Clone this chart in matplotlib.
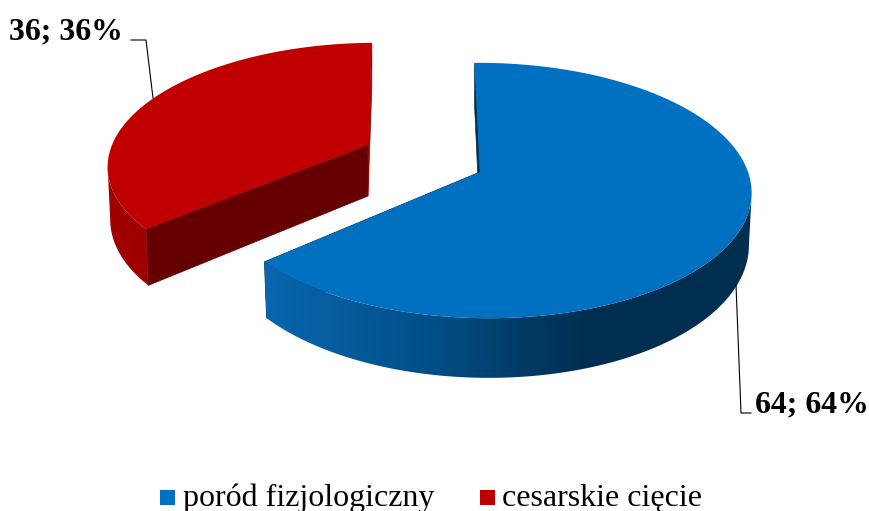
import numpy as np
import matplotlib
matplotlib.use("Agg")
from matplotlib import pyplot as plt
from matplotlib.colors import LinearSegmentedColormap
from matplotlib.patches import Polygon, Rectangle

# data
categories = ["poród fizjologiczny", "cesarskie cięcie"]
values = [64, 36]
data_labels = ["64; 64%", "36; 36%"]

top_colors = ["#0070C0", "#C00000"]
wall_colors = [["#0A66AE", "#004F88", "#002E50", "#002E50"], ["#A00000", "#9A0000", "#900000"]]
# wall at the start of the slice, wall at the end of it
radial_colors = [["#00304F", "#00304F"], ["#660000", "#A00000"]]

start_angle = -1.0
persp = 0.145
# apex x, apex y, ellipse x, half width, half height, shear
slice_geo = [(480, 172, 483, 265, 125, -5), (368, 145, 367, 255, 117, 10.0)]
depth = 51.0
shrink = 0.99


def project(ang, radius, geo):
    apex_x, apex_y, cx, f, g, s = geo
    X = radius * np.sin(np.radians(ang))
    Y = radius * np.cos(np.radians(ang))
    w = 1 + persp * Y
    x = cx + (f * X + s * Y) / w
    y = apex_y - g * Y / w
    d = depth / w
    return x, y, apex_x + (x - apex_x) * shrink, y + d


fig = plt.figure(figsize=(8.69, 5.11), dpi=100)
ax = fig.add_axes([0, 0, 1, 1])

plt.rcParams["font.family"] = ["Liberation Serif", "DejaVu Serif"]

a0 = start_angle
for i, val in enumerate(values):
    a1 = a0 + val * 3.6
    geo = slice_geo[i]
    ang = np.linspace(a0, a1, 241)
    x, y, xb, yb = project(ang, 1.0, geo)
    apex = (geo[0], geo[1])
    apex_b = (geo[0], geo[1] + depth)

    # radial walls first
    for end, c in zip([0, -1], radial_colors[i]):
        ax.add_patch(Polygon([apex, (x[end], y[end]), (xb[end], yb[end]), apex_b],
                             closed=True, fc=c, ec=c, lw=0.5, zorder=2))

    # outer wall, only the part facing the viewer, shaded left to right
    cmap = LinearSegmentedColormap.from_list("wall", wall_colors[i])
    ext = np.argmax(np.abs(x - geo[0]))
    front = np.cos(np.radians(ang)) <= np.cos(np.radians(ang[ext]))
    wall = Polygon(np.column_stack([np.r_[x[front], xb[front][::-1]], np.r_[y[front], yb[front][::-1]]]),
                   closed=True, fc="none", ec="none", transform=ax.transData)
    ax.add_patch(wall)
    im = ax.imshow(np.linspace(0, 1, 256).reshape(1, -1), cmap=cmap, aspect="auto", zorder=3,
                   extent=(x.min() - 1, x.max() + 1, yb.max() + 1, y.min() - 1))
    im.set_clip_path(wall)

    # top face
    ax.add_patch(Polygon(np.column_stack([np.r_[apex[0], x], np.r_[apex[1], y]]),
                         closed=True, fc=top_colors[i], ec="none", zorder=4))
    a0 = a1

# leader lines
ax.plot([131, 146, 153], [40, 40, 98], color="black", lw=0.8, zorder=5)
ax.plot([736, 741, 751], [285, 413, 413], color="black", lw=0.8, zorder=5)

ax.text(9, 32, data_labels[1], fontsize=22.9, fontweight="bold", va="center", ha="left")
ax.text(755, 405, data_labels[0], fontsize=22.9, fontweight="bold", va="center", ha="left")

# legend
ax.add_patch(Rectangle((160, 490), 15, 15, fc=top_colors[0], ec="none"))
ax.add_patch(Rectangle((480, 490), 15, 15, fc=top_colors[1], ec="none"))
ax.text(183, 498, categories[0], fontsize=23, va="center", ha="left")
ax.text(502, 498, categories[1], fontsize=23, va="center", ha="left")

ax.set_xlim(0, 869)
ax.set_ylim(511, 0)
ax.axis("off")

plt.savefig("out.png", dpi=100)
